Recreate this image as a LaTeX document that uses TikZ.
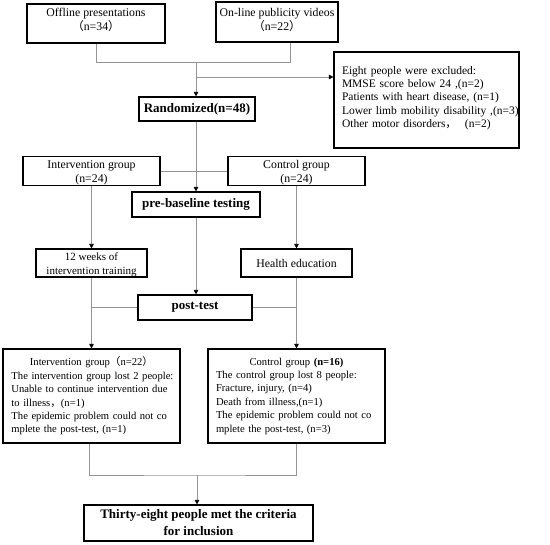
\documentclass[tikz,border=0pt]{standalone}
\usepackage{fontspec}
\setmainfont{Liberation Serif}
\newfontfamily\cjk{Noto Sans CJK SC}
\usetikzlibrary{arrows.meta}
\newcommand\dpt[1]{\rule[-#1]{0pt}{#1}}
\newcommand\hgt[1]{\rule{0pt}{#1}}
\begin{document}
\begin{tikzpicture}[x=1pt,y=-1pt,
  box/.style={draw=black, line width=1.1pt, inner sep=0pt, align=center,
    font=\fontsize{11.8}{14}\selectfont},
  bbox/.style={box, font=\bfseries\fontsize{13}{17}\selectfont},
  lbox/.style={draw=black, line width=1.1pt, inner sep=0pt, align=left,
    font=\fontsize{10.6}{13.4}\selectfont},
  sbox/.style={box, font=\fontsize{11}{13.4}\selectfont},
  conn/.style={draw=black!42, line width=0.8pt},
  arr/.style={-{Triangle[width=4.5pt,length=4.5pt,color=black]}}]
\useasboundingbox (0,0) rectangle (550,545);
% nodes
\node[box, minimum width=138, minimum height=39] (off) at (96,23.5)
  {Offline presentations\\{\cjk （}n=34{\cjk ）}\dpt{8pt}};
\node[box, minimum width=122, minimum height=40] (on) at (277,22)
  {On-line publicity videos\\{\cjk （}n=22{\cjk ）}\dpt{6pt}};
\node[lbox, font=\fontsize{11.5}{13.3}\selectfont, minimum width=185, minimum height=96, text width=169] (excl) at (426.5,100)
  {\mbox{Eight people were excluded:}\\\mbox{MMSE score below 24 ,(n=2)}\\\mbox{Patients with heart disease, (n=1)}\\\mbox{Lower limb mobility disability ,(n=3)}\\\mbox{Other motor disorders{\cjk ，}\hspace{8pt}(n=2)}\dpt{6pt}};
\node[bbox, minimum width=116, minimum height=24] (rand) at (197,109) {Randomized(n=48)};
\node[box, minimum width=137, minimum height=28] (ivg) at (91.5,171) {\hgt{12.5pt}Intervention group\\(n=24)};
\node[box, minimum width=137, minimum height=28] (ctg) at (296.5,171) {\hgt{12.5pt}Control group\\(n=24)};
\node[bbox, minimum width=128, minimum height=25] (pre) at (196,204.5) {pre-baseline testing};
\node[sbox, minimum width=111, minimum height=28] (w12) at (91.5,263) {\hgt{11.5pt}12 weeks of\\intervention training};
\node[box, minimum width=111, minimum height=28] (hed) at (296.5,263) {Health education};
\node[bbox, minimum width=114, minimum height=25] (post) at (195,307.5) {post-test};
\node[lbox, minimum width=177, minimum height=94, text width=160] (iv22) at (91.5,396)
  {\hfill\mbox{Intervention group{\cjk （}n=22{\cjk ）}}\hfill\null\\\mbox{The intervention group lost 2 people:}\\\mbox{Unable to continue intervention due}\\\mbox{to illness{\cjk ，}(n=1)}\\\mbox{The epidemic problem could not co}\\\mbox{mplete the post-test, (n=1)}};
\node[lbox, minimum width=177, minimum height=94, text width=161] (ct16) at (296.5,396)
  {\hfill\mbox{Control group \textbf{(n=16)}}\hfill\null\\\mbox{The control group lost 8 people:}\\\mbox{Fracture, injury, (n=4)}\\\mbox{Death from illness,(n=1)}\\\mbox{The epidemic problem could not co}\\\mbox{mplete the post-test, (n=3)}};
\node[bbox, minimum width=229, minimum height=36] (fin) at (198.5,523)
  {Thirty-eight people met the criteria\\for inclusion};
% junctions
\coordinate (j1) at (196,62);
\coordinate (jr) at (290,62);
\coordinate (jx) at (196,77);
\coordinate (jb) at (197,475);
% connectors
\draw[conn] (off.south) |- (jr) -- (jr |- on.south);
\draw[conn,arr] (j1) -- (j1 |- rand.north);
\draw[conn,arr] (jx) -- (jx -| excl.west);
\draw[conn] (ivg.east) -- (ctg.west);
\draw[conn,arr] (rand.south -| j1) -- (j1 |- pre.north);
\draw[conn,arr] (ivg.south) -- (w12.north);
\draw[conn,arr] (ctg.south) -- (hed.north);
\draw[conn,arr] (pre.south -| j1) -- (j1 |- post.north);
\draw[conn,arr] (w12.south) -- (iv22.north);
\draw[conn,arr] (hed.south) -- (ct16.north);
\draw[conn] (post.west) -- (post.west -| w12.south);
\draw[conn] (post.east) -- (post.east -| hed.south);
\draw[conn] (iv22.south) ++(-2.5,0) |- (jb) -| (ct16.south);
\draw[conn,arr] (jb) -- (jb |- fin.north);
\end{tikzpicture}
\end{document}
